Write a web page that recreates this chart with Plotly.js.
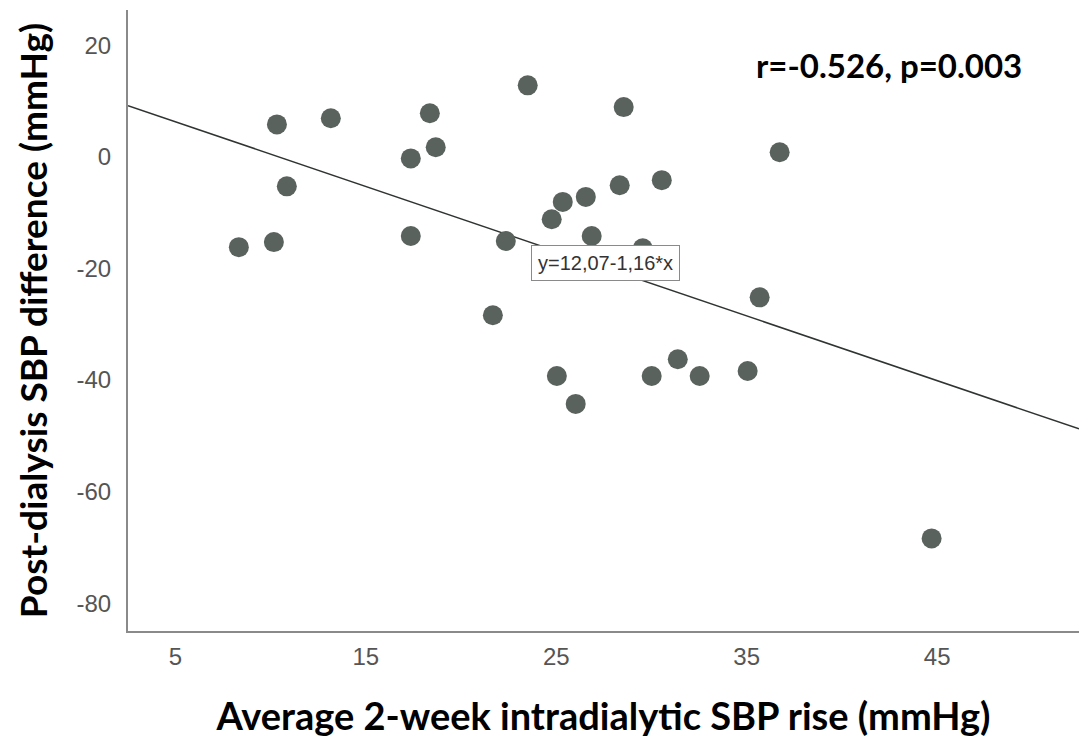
<!DOCTYPE html>
<html>
<head>
<meta charset="utf-8">
<script src="https://cdn.plot.ly/plotly-3.0.1.min.js"></script>
<style>
html,body{margin:0;padding:0;background:#fff;}
#chart{width:1079px;height:738px;}
</style>
</head>
<body>
<div id="chart"></div>
<script>
// Average 2-week intradialytic SBP rise (mmHg)
const sbpRise = [8.33, 10.17, 10.33, 10.85, 13.16, 17.36, 17.36, 18.36, 18.67, 22.35,
                 21.67, 23.5, 24.76, 25.34, 26.55, 26.86, 28.33, 28.54, 30.54, 29.54,
                 25.03, 26.02, 30.01, 31.38, 32.53, 35.05, 35.68, 36.73, 44.71];
// Post-dialysis SBP difference (mmHg)
const sbpDiff = [-16.2, -15.3, 5.8, -5.3, 6.9, -0.3, -14.2, 7.8, 1.7, -15.1,
                 -28.4, 12.8, -11.2, -8.1, -7.2, -14.2, -5.1, 8.9, -4.2, -16.4,
                 -39.3, -44.3, -39.3, -36.3, -39.3, -38.4, -25.2, 0.8, -68.4];
// Regression y = 12.07 - 1.16*x
const intercept = 12.07;
const slope = -1.16;
const xTicks = [5, 15, 25, 35, 45];
const yTicks = [20, 0, -20, -40, -60, -80];
const xRange = [2.51, 52.45];
const yRange = [-85.0, 26.3];

const fitX = xRange.slice();
const fitY = fitX.map(v => intercept + slope * v);

const traces = [
  {
    x: fitX, y: fitY, type: 'scatter', mode: 'lines',
    line: {color: '#2f3432', width: 1.5},
    hoverinfo: 'skip', showlegend: false
  },
  {
    x: sbpRise, y: sbpDiff, type: 'scatter', mode: 'markers',
    marker: {size: 20, color: '#59625d', line: {width: 0}},
    showlegend: false
  }
];

const layout = {
  width: 1079, height: 738,
  margin: {l: 128, r: 0, t: 10, b: 107},
  paper_bgcolor: '#ffffff', plot_bgcolor: '#ffffff',
  showlegend: false,
  xaxis: {
    range: xRange, tickvals: xTicks, ticktext: xTicks.map(String),
    showgrid: false, zeroline: false, showline: true,
    linecolor: '#8a8a8a', linewidth: 2, ticks: '',
    ticklabelstandoff: 3,
    tickfont: {family: 'Liberation Sans, Arial, sans-serif', size: 24, color: '#555555'},
    title: {text: 'Average 2-week intradialytic SBP rise (mmHg)',
            font: {family: 'Lato, Carlito, Calibri, sans-serif', size: 38, color: '#000000', weight: 'bold'},
            standoff: 35}
  },
  yaxis: {
    range: yRange, tickvals: yTicks, ticktext: yTicks.map(String),
    showgrid: false, zeroline: false, showline: true,
    linecolor: '#8a8a8a', linewidth: 2, ticks: '',
    ticklabelstandoff: 10,
    tickfont: {family: 'Liberation Sans, Arial, sans-serif', size: 24, color: '#555555'},
    title: {text: 'Post-dialysis SBP difference (mmHg)',
            font: {family: 'Lato, Carlito, Calibri, sans-serif', size: 37, color: '#000000', weight: 'bold'},
            standoff: 18}
  },
  annotations: [
    {
      text: '<b>r=-0.526, p=0.003</b>', xref: 'paper', yref: 'paper',
      x: 0.8, y: 0.912, xanchor: 'center', yanchor: 'middle', showarrow: false,
      font: {family: 'Lato, Carlito, Calibri, sans-serif', size: 33, color: '#000000'}
    },
    {
      text: 'y=12,07-1,16*x', xref: 'paper', yref: 'paper',
      x: 0.5016, y: 0.5926, xanchor: 'center', yanchor: 'middle', showarrow: false,
      font: {family: 'Liberation Sans, Arial, sans-serif', size: 20, color: '#333333'},
      bgcolor: '#ffffff', bordercolor: '#8a8a8a', borderwidth: 1, borderpad: 6
    }
  ]
};

Plotly.newPlot('chart', traces, layout, {displayModeBar: false, staticPlot: true});
</script>
</body>
</html>
